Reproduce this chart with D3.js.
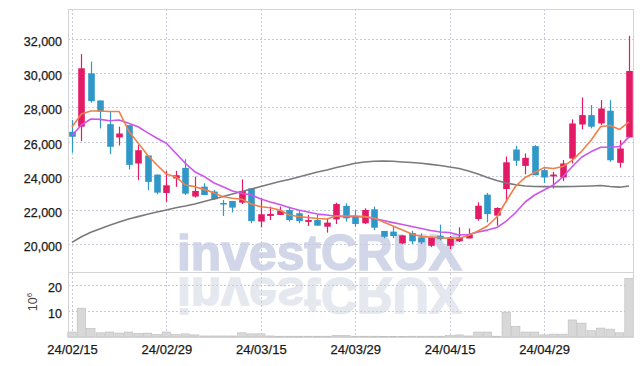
<!DOCTYPE html>
<html>
<head>
<meta charset="utf-8">
<script src="https://cdn.jsdelivr.net/npm/d3@7"></script>
<style>
body { margin: 0; background: #fff; }
svg { display: block; font-family: "Liberation Sans", Arial, sans-serif; }
</style>
</head>
<body>
<svg id="chart" width="642" height="366"></svg>
<script>
// trading days shown on the chart
const dates = [
	'2024-02-15', '2024-02-16', '2024-02-19', '2024-02-20', '2024-02-21', '2024-02-22', '2024-02-23',
	'2024-02-26', '2024-02-27', '2024-02-28', '2024-02-29', '2024-03-04', '2024-03-05', '2024-03-06',
	'2024-03-07', '2024-03-08', '2024-03-11', '2024-03-12', '2024-03-13', '2024-03-14', '2024-03-15',
	'2024-03-18', '2024-03-19', '2024-03-20', '2024-03-21', '2024-03-22', '2024-03-25', '2024-03-26',
	'2024-03-27', '2024-03-28', '2024-03-29', '2024-04-01', '2024-04-02', '2024-04-03', '2024-04-04',
	'2024-04-05', '2024-04-08', '2024-04-09', '2024-04-11', '2024-04-12', '2024-04-15', '2024-04-16',
	'2024-04-17', '2024-04-18', '2024-04-19', '2024-04-22', '2024-04-23', '2024-04-24', '2024-04-25',
	'2024-04-26', '2024-04-29', '2024-04-30', '2024-05-02', '2024-05-03', '2024-05-07', '2024-05-08',
	'2024-05-09', '2024-05-10', '2024-05-13', '2024-05-14'
];

const opens = [
	26570, 26870, 30000, 28410, 27020, 26240, 26960, 24710, 25180, 24060,
	22980, 23830, 24450, 22770, 23350, 23060, 22390, 22510, 22410, 23250,
	21300, 21630, 21690, 21980, 21790, 21280, 21390, 21000, 21430, 22220,
	21630, 21200, 22020, 20750, 20710, 20020, 20630, 20370, 19880, 20470,
	19880, 20140, 20310, 21450, 22880, 21650, 23210, 25530, 24570, 25730,
	24320, 23950, 23890, 25000, 27000, 27550, 27060, 27810, 24750, 26240
];
const highs = [
	27260, 31140, 30690, 28410, 27750, 26870, 26960, 25790, 25180, 24060,
	24280, 24280, 24960, 23940, 23550, 23160, 22570, 22510, 23780, 23250,
	22670, 22180, 22180, 22180, 21980, 21690, 21690, 21490, 22410, 22370,
	21980, 22080, 22180, 20750, 21000, 20490, 20760, 20610, 20370, 21120,
	20450, 20960, 20900, 22430, 22980, 22140, 25120, 25750, 25300, 25790,
	24420, 24220, 24910, 27300, 28590, 28140, 28430, 28430, 26080, 32200
];
const lows = [
	25340, 26020, 28280, 26770, 25260, 25770, 24360, 23730, 23140, 22910,
	22460, 23340, 22860, 22710, 22860, 22570, 21630, 21840, 22330, 21200,
	20960, 21390, 21690, 21300, 21200, 21040, 21060, 20650, 21160, 21300,
	21000, 21160, 20800, 20320, 20320, 19980, 19980, 19980, 19800, 20200,
	19690, 20100, 20310, 21350, 21250, 21060, 22430, 24570, 24080, 24020,
	23570, 23240, 23670, 24710, 26710, 26770, 26970, 24810, 24470, 26240
];
const closes = [
	26280, 30300, 28370, 27750, 25690, 26470, 24630, 25490, 23630, 23000,
	23430, 24020, 22940, 23100, 22860, 22610, 22370, 22120, 23100, 21330,
	21730, 21750, 21940, 21390, 21330, 21390, 21060, 21240, 22330, 21490,
	21160, 21980, 20940, 20410, 20450, 20490, 20140, 20080, 20370, 20270,
	20370, 20370, 20530, 22230, 21740, 22100, 24780, 24870, 25040, 24020,
	23890, 24060, 24710, 27060, 27550, 26870, 27940, 24900, 25590, 30140
];

// volume, millions of shares
const volumes = [
	1.9, 11.0, 3.3, 1.6, 1.9, 1.5, 1.9, 1.4, 1.5, 1.0,
	1.9, 0.9, 1.2, 0.8, 0.4, 0.4, 0.4, 0.4, 1.6, 1.2,
	1.2, 0.4, 0.3, 0.3, 0.3, 0.3, 0.3, 0.3, 0.6, 0.6,
	0.3, 0.3, 0.3, 0.2, 0.2, 0.2, 0.3, 0.3, 0.3, 0.3,
	0.5, 0.8, 0.4, 1.9, 1.9, 0.3, 9.5, 4.1, 1.9, 1.9,
	0.8, 1.1, 1.1, 6.5, 5.3, 2.4, 3.4, 3.0, 1.6, 22.4
];

// moving averages as drawn
const maShort = [
	26850, 27620, 27790, 27790, 27760, 27760, 26620, 25910, 25210, 24620,
	24090, 23920, 23450, 23350, 23190, 23000, 22760, 22670, 22610, 22330,
	22170, 22110, 21980, 21690, 21600, 21540, 21480, 21450, 21630, 21630,
	21630, 21600, 21510, 21270, 21040, 20800, 20570, 20420, 20390, 20360,
	20320, 20320, 20480, 20750, 21040, 21570, 22510, 23390, 23890, 24180,
	24470, 24420, 24530, 24910, 25440, 26090, 26880, 26940, 26710, 27150
];
const maMid = [
	26350, 26970, 27320, 27300, 27220, 27260, 27070, 26870, 26520, 26190,
	25900, 25310, 24720, 24230, 23950, 23580, 23350, 23090, 22960, 22860,
	22620, 22450, 22300, 22130, 21980, 21860, 21740, 21690, 21610, 21590,
	21590, 21570, 21480, 21360, 21240, 21130, 21010, 20890, 20780, 20690,
	20660, 20510, 20540, 20690, 20800, 20950, 21330, 21830, 22450, 22860,
	23150, 23450, 23930, 24530, 25090, 25410, 25660, 25660, 25710, 26270
];
const maLong = [
	20080, 20410, 20670, 20880, 21090, 21270, 21450, 21590, 21730, 21860,
	21980, 22110, 22210, 22330, 22480, 22620, 22770, 22920, 23070, 23210,
	23360, 23510, 23650, 23770, 23920, 24060, 24210, 24330, 24470, 24590,
	24720, 24800, 24840, 24860, 24840, 24800, 24770, 24720, 24660, 24590,
	24500, 24420, 24270, 24090, 23890, 23710, 23560, 23460, 23390, 23360,
	23350, 23350, 23350, 23360, 23370, 23390, 23420, 23360, 23320, 23390
];

const priceTicks = [20000, 22000, 24000, 26000, 28000, 30000, 32000];
const volumeTicks = [10, 20];
const dateTicks = ['2024-02-15', '2024-02-29', '2024-03-15', '2024-03-29', '2024-04-15', '2024-04-29'];

const colors = {
	up: '#e31b67',
	down: '#3097c9',
	maShort: '#ef8049',
	maMid: '#cc55ea',
	maLong: '#7a7a7a',
	grid: '#c9c9dc',
	border: '#d4d4d4',
	volume: '#d8d8d8',
	volumeEdge: '#bcbcbc',
	text: '#1a1a1a',
};

const box = { left: 68, right: 633, top: 9, split: 272, bottom: 337 };

const svg = d3.select('#chart');

const x = d3.scalePoint()
	.domain(dates)
	.range([box.left, box.right])
	.padding(0.42);
const y = d3.scaleLinear()
	.domain([18340, 33780])
	.range([box.split, box.top]);
const yVol = d3.scaleLinear()
	.domain([0, 24.8])
	.range([box.bottom, box.split]);

// watermark and its reflection
const mark = svg.append('g')
	.attr('font-weight', 'bold')
	.attr('font-size', 50);
mark.append('text')
	.attr('x', 177)
	.attr('y', 270)
	.attr('textLength', 285)
	.attr('lengthAdjust', 'spacingAndGlyphs')
	.attr('fill', '#d1d6e9')
	.attr('stroke', '#d1d6e9')
	.attr('stroke-width', 1.5)
	.text('investCRUX');
mark.append('text')
	.attr('transform', 'translate(0,548) scale(1,-1)')
	.attr('x', 177)
	.attr('y', 270)
	.attr('textLength', 285)
	.attr('lengthAdjust', 'spacingAndGlyphs')
	.attr('fill', '#e6e8f0')
	.attr('stroke', '#e6e8f0')
	.attr('stroke-width', 1.5)
	.text('investCRUX');

// grid
const grid = svg.append('g')
	.attr('stroke', colors.grid)
	.attr('stroke-width', 1)
	.attr('stroke-dasharray', '2,2');
grid.selectAll('.hp')
	.data(priceTicks)
	.join('line')
	.attr('class', 'hp')
	.attr('x1', box.left)
	.attr('x2', box.right)
	.attr('y1', d => Math.round(y(d)) + 0.5)
	.attr('y2', d => Math.round(y(d)) + 0.5);
grid.selectAll('.hv')
	.data(volumeTicks)
	.join('line')
	.attr('class', 'hv')
	.attr('x1', box.left)
	.attr('x2', box.right)
	.attr('y1', d => Math.round(yVol(d)) + 0.5)
	.attr('y2', d => Math.round(yVol(d)) + 0.5);
grid.selectAll('.vx')
	.data(dateTicks)
	.join('line')
	.attr('class', 'vx')
	.attr('x1', d => Math.round(x(d)) + 0.5)
	.attr('x2', d => Math.round(x(d)) + 0.5)
	.attr('y1', box.top)
	.attr('y2', box.bottom);

// volume bars
const bw = x.step() - 1;
svg.append('g')
	.selectAll('rect')
	.data(volumes)
	.join('rect')
	.attr('x', (v, i) => x(dates[i]) - bw / 2)
	.attr('y', v => yVol(v))
	.attr('width', bw)
	.attr('height', v => yVol(0) - yVol(v))
	.attr('fill', colors.volume)
	.attr('stroke', colors.volumeEdge)
	.attr('stroke-width', 0.6);

// candles
const candles = svg.append('g')
	.selectAll('g')
	.data(dates)
	.join('g');
candles.append('line')
	.attr('x1', d => Math.round(x(d)) + 0.5)
	.attr('x2', d => Math.round(x(d)) + 0.5)
	.attr('y1', (d, i) => y(highs[i]))
	.attr('y2', (d, i) => y(lows[i]))
	.attr('stroke', (d, i) => closes[i] >= opens[i] ? colors.up : colors.down)
	.attr('stroke-width', 1.2);
candles.append('rect')
	.attr('x', d => Math.round(x(d)) + 0.5 - 3.3)
	.attr('y', (d, i) => y(Math.max(opens[i], closes[i])))
	.attr('width', 6.6)
	.attr('height', (d, i) => Math.max(1.5, Math.abs(y(opens[i]) - y(closes[i]))))
	.attr('fill', (d, i) => closes[i] >= opens[i] ? colors.up : colors.down);

// moving averages
const line = d3.line()
	.x((v, i) => x(dates[i]))
	.y(v => y(v));
[[maLong, colors.maLong], [maMid, colors.maMid], [maShort, colors.maShort]].forEach(([series, c]) => {
	svg.append('path')
		.datum(series)
		.attr('d', line)
		.attr('fill', 'none')
		.attr('stroke', c)
		.attr('stroke-width', 1.6)
		.attr('stroke-linejoin', 'round');
});

// panel borders
const border = svg.append('g')
	.attr('stroke', colors.border)
	.attr('fill', 'none');
border.append('rect')
	.attr('x', box.left + 0.5)
	.attr('y', box.top + 0.5)
	.attr('width', box.right - box.left)
	.attr('height', box.bottom - box.top);
border.append('line')
	.attr('x1', box.left)
	.attr('x2', box.right)
	.attr('y1', box.split + 0.5)
	.attr('y2', box.split + 0.5);

// axes
const priceAxis = svg.append('g')
	.attr('transform', `translate(${box.left},0)`)
	.call(d3.axisLeft(y).tickValues(priceTicks).tickFormat(d3.format(',')).tickSize(0).tickPadding(6));
const volAxis = svg.append('g')
	.attr('transform', `translate(${box.left},0)`)
	.call(d3.axisLeft(yVol).tickValues(volumeTicks).tickSize(0).tickPadding(6));
const dateAxis = svg.append('g')
	.attr('transform', `translate(0,${box.bottom})`)
	.call(d3.axisBottom(x).tickValues(dateTicks).tickSize(0)
		.tickFormat(d => d.slice(2).replace(/-/g, '/')));

[priceAxis, volAxis, dateAxis].forEach(a => {
	a.select('.domain').remove();
	a.selectAll('text')
		.attr('font-family', '"Liberation Sans", Arial, sans-serif')
		.attr('fill', colors.text)
		.attr('stroke', colors.text)
		.attr('stroke-width', 0.25);
});
priceAxis.selectAll('text').attr('font-size', 12.5).attr('dy', '0.52em');
volAxis.selectAll('text').attr('font-size', 12.5).attr('dy', '0.52em');
dateAxis.selectAll('text').attr('font-size', 13).attr('y', 17).attr('dy', 0);

// unit label
const unit = svg.append('text')
	.attr('transform', 'translate(37,302) rotate(-90)')
	.attr('text-anchor', 'middle')
	.attr('font-size', 12.5)
	.attr('fill', '#444');
unit.append('tspan').text('10');
unit.append('tspan').attr('font-size', 8).attr('dy', -5).text('6');
</script>
</body>
</html>
